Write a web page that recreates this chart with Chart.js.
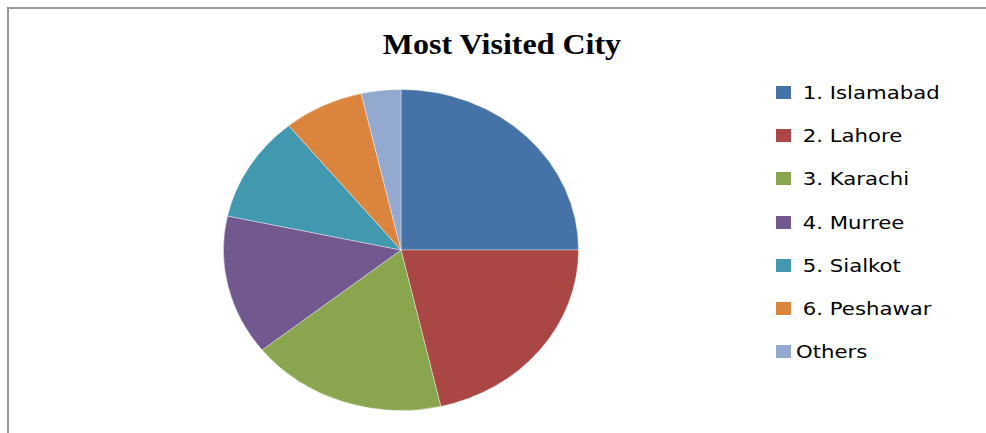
<!DOCTYPE html>
<html>
<head>
<meta charset="utf-8">
<title>Most Visited City</title>
<script src="https://cdn.jsdelivr.net/npm/chart.js@4"></script>
<style>
  html, body { margin: 0; padding: 0; background: #fff; overflow: hidden; }
  body { width: 986px; height: 433px; position: relative; }
  .frame {
    position: absolute; left: 7px; top: 7px; width: 985px; height: 440px;
    border-left: 2px solid #9a9a9a; border-top: 2px solid #9a9a9a;
  }
  .title {
    position: absolute; left: 302px; width: 400px; top: 27px; text-align: center;
    font: bold 30px "Liberation Serif", "Times New Roman", serif; color: #000;
    transform: scaleX(1.067);
  }
  .pie-box { position: absolute; left: 221px; top: 85px; width: 360px; height: 330px; }
  .legend { position: absolute; left: 776px; top: 71px; margin: 0; padding: 0; list-style: none; }
  .legend li {
    height: 43.2px; display: flex; align-items: center; white-space: pre;
    font: 18px "DejaVu Sans", sans-serif; color: #000;
  }
  .legend .swatch { width: 15px; height: 13px; margin-right: 5px; flex: none; }
  .legend .txt { display: inline-block; transform-origin: left center; transform: scaleX(1.18); }
</style>
</head>
<body>
<div class="frame"></div>
<div class="title">Most Visited City</div>
<div class="pie-box"><canvas id="chart-city"></canvas></div>
<ul class="legend" id="legend-city"></ul>

<script>
// Share of visits per city (percent)
const cities = [' 1. Islamabad', ' 2. Lahore', ' 3. Karachi', ' 4. Murree', ' 5. Sialkot', ' 6. Peshawar', 'Others'];
const visits = [25.0, 21.4, 17.9, 14.1, 10.7, 7.3, 3.6];
const sliceColors = ['#4572A7', '#AA4643', '#89A54E', '#71588F', '#4198AF', '#DB843D', '#93A9CF'];

// Pie is drawn a bit wider than tall
const STRETCH_X = 1.106;

const stretchPie = {
  id: 'stretchPie',
  beforeDatasetsDraw(chart) {
    const { ctx, chartArea } = chart;
    const cx = (chartArea.left + chartArea.right) / 2;
    ctx.save();
    ctx.translate(cx, 0);
    ctx.scale(STRETCH_X, 1);
    ctx.translate(-cx, 0);
  },
  afterDatasetsDraw(chart) {
    chart.ctx.restore();
  },
};

const cityChart = new Chart(document.getElementById('chart-city'), {
  type: 'pie',
  data: {
    labels: cities,
    datasets: [{
      data: visits,
      backgroundColor: sliceColors,
      borderColor: 'rgba(255,255,255,0.6)',
      borderWidth: 0.6,
      radius: 160.5,
    }],
  },
  options: {
    responsive: true,
    maintainAspectRatio: false,
    animation: false,
    layout: { padding: 0 },
    plugins: {
      legend: { display: false },
      title: { display: false },
      tooltip: { enabled: false },
    },
  },
  plugins: [stretchPie],
});

// ─── Legend ──────────────────────────────────────────────────────────────────

document.getElementById('legend-city').innerHTML = cities.map((c, i) => `
  <li><span class="swatch" style="background:${sliceColors[i]}"></span><span class="txt">${c}</span></li>
`).join('');
</script>
</body>
</html>
